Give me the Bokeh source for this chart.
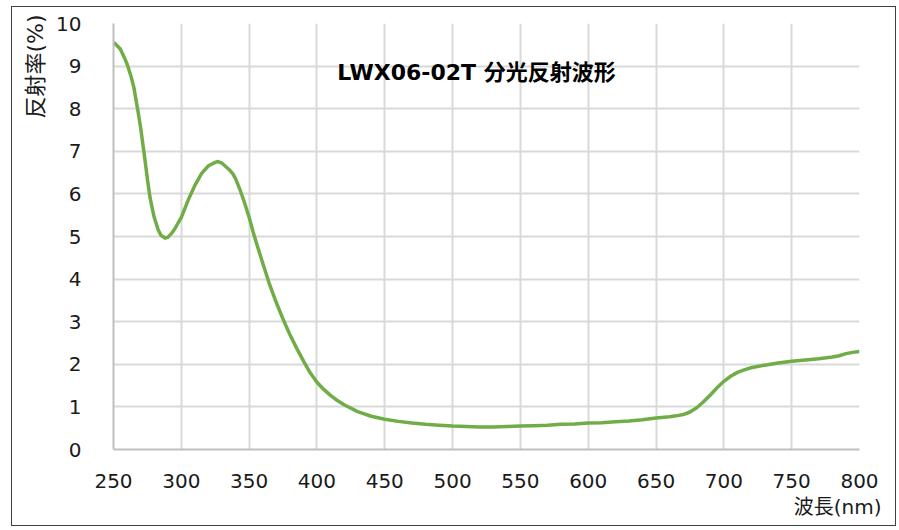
from bokeh.plotting import figure
from bokeh.models import FixedTicker, Label, Title
from bokeh.embed import file_html
from bokeh.resources import INLINE

wavelength = [250, 252, 255, 258, 260, 263, 265, 268, 270, 273, 275, 277, 280, 283, 285, 288,
              290, 293, 295, 300, 305, 310, 315, 320, 325, 327, 330, 335, 338, 340, 343, 346,
              350, 353, 356, 360, 365, 370, 375, 380, 385, 390, 395, 400, 405, 410, 415,
              420, 430, 440, 450, 460, 470, 480, 490, 500, 510, 520, 530, 540, 550, 560,
              570, 580, 590, 600, 610, 620, 630, 640, 650, 660, 665, 670, 675, 680, 685, 690,
              695, 700, 705, 710, 715, 720, 730, 740, 750, 760, 770, 780, 785, 790, 795, 800]
reflectance = [9.56, 9.5, 9.4, 9.2, 9.05, 8.75, 8.5, 7.95, 7.56, 6.85, 6.35, 5.9, 5.45, 5.15, 5.03, 4.96,
               4.98, 5.08, 5.17, 5.45, 5.85, 6.2, 6.48, 6.66, 6.74, 6.76, 6.72, 6.58, 6.47, 6.36, 6.12, 5.85,
               5.45, 5.1, 4.78, 4.38, 3.88, 3.45, 3.06, 2.7, 2.38, 2.08, 1.8, 1.58, 1.41, 1.27, 1.15,
               1.05, 0.89, 0.78, 0.71, 0.66, 0.62, 0.59, 0.57, 0.55, 0.54, 0.53, 0.53, 0.54, 0.55, 0.56,
               0.57, 0.59, 0.6, 0.62, 0.63, 0.65, 0.67, 0.7, 0.74, 0.77, 0.79, 0.82, 0.88, 0.98, 1.12, 1.28,
               1.45, 1.6, 1.72, 1.81, 1.87, 1.92, 1.98, 2.03, 2.07, 2.1, 2.13, 2.17, 2.2, 2.25, 2.28, 2.3]
x_ticks = [250, 300, 350, 400, 450, 500, 550, 600, 650, 700, 750, 800]
y_ticks = [0, 1, 2, 3, 4, 5, 6, 7, 8, 9, 10]

title_text = "LWX06-02T 分光反射波形"
x_label = "波長(nm)"
y_label = "反射率(%)"

FONT = "DejaVu Sans, Noto Sans CJK JP"

p = figure(width=885, height=520, x_range=(250, 800), y_range=(0, 10),
           output_backend="svg", toolbar_location=None,
           min_border_left=101, min_border_right=38, min_border_top=16, min_border_bottom=78)
p.styles = {"border": "1px solid #404040", "margin-left": "11px", "margin-top": "6px"}
p.outline_line_color = None
p.background_fill_color = "white"
p.border_fill_color = "white"

for ax in (p.xaxis, p.yaxis):
    ax.major_tick_line_color = None
    ax.minor_tick_line_color = None
    ax.axis_line_color = "#bfbfbf"
    ax.axis_line_width = 2
    ax.major_label_text_font = FONT
    ax.major_label_text_font_size = "20px"
    ax.major_label_text_color = "#1a1a1a"
p.xaxis.ticker = FixedTicker(ticks=x_ticks)
p.yaxis.ticker = FixedTicker(ticks=y_ticks)
p.xaxis.major_label_standoff = 18
p.yaxis.major_label_standoff = 26

p.xgrid.ticker = FixedTicker(ticks=x_ticks)
p.ygrid.ticker = FixedTicker(ticks=y_ticks)
p.grid.grid_line_color = "#d9d9d9"
p.grid.grid_line_width = 2

p.line(wavelength, reflectance, line_color="#70ad47", line_width=3.5, line_join="round")

p.add_layout(Label(x=517.6, y=8.85, text=title_text, text_font=FONT, text_font_size="22px",
                   text_font_style="bold", text_align="center", text_baseline="middle",
                   text_color="black"))
p.add_layout(Title(text=y_label, align="right", offset=-9, standoff=12, text_font=FONT,
                   text_font_size="22px", text_font_style="normal", text_color="#1a1a1a"), "left")
p.add_layout(Title(text=x_label, align="right", offset=-22, standoff=5, text_font=FONT,
                   text_font_size="20px", text_font_style="normal", text_color="#1a1a1a"), "below")

open("out.html", "w").write(file_html(p, INLINE))
